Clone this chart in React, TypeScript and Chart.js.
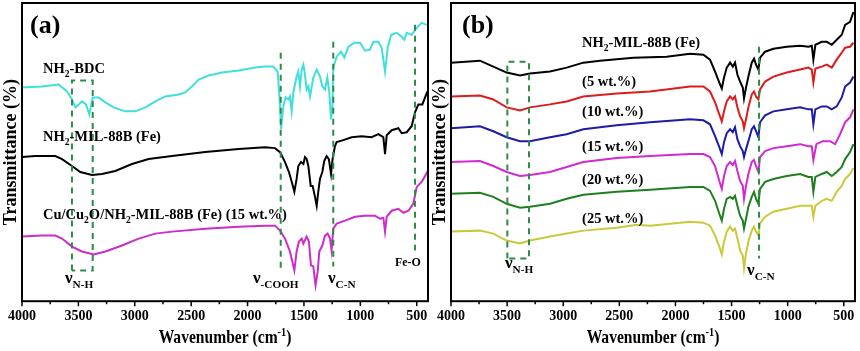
import { useEffect, useRef } from 'react';
import { Chart, registerables } from 'chart.js';

Chart.register(...registerables);

const FONT = "'Liberation Serif', 'Times New Roman', serif";

// Axis settings (wavenumber, cm-1)
const X_MIN = 400;
const X_MAX = 4000;
const TICK_VALUES = [500, 750, 1000, 1250, 1500, 1750, 2000, 2250, 2500, 2750, 3000, 3250, 3500, 3750, 4000];
const Y_MIN = 0;
const Y_MAX = 300;

// ---- Panel (a) spectra: [wavenumber, transmittance (a.u.)] ----
const bdcA: [number, number][] = [
  [4000, 215], [3823, 216], [3675, 218], [3601, 211], [3557, 203], [3527, 195], [3497, 198], [3468, 201],
  [3433, 198], [3403, 188], [3373, 205], [3320, 205], [3261, 200], [3187, 195], [3084, 191], [2995, 191],
  [2907, 195], [2818, 201], [2729, 206], [2670, 207], [2611, 208], [2552, 210], [2493, 216], [2433, 223],
  [2345, 227], [2227, 230], [2079, 232], [1931, 235], [1845, 236], [1772, 236], [1733, 231], [1712, 197],
  [1703, 173], [1683, 196], [1662, 205], [1638, 203], [1624, 206], [1609, 191], [1594, 210], [1565, 226],
  [1550, 231], [1535, 216], [1520, 233], [1505, 238], [1491, 228], [1476, 213], [1461, 216], [1446, 206],
  [1417, 225], [1387, 233], [1358, 226], [1337, 216], [1313, 213], [1293, 225], [1275, 210], [1260, 183],
  [1248, 193], [1240, 235], [1210, 246], [1171, 251], [1142, 245], [1106, 256], [1053, 260], [1003, 260],
  [959, 252], [914, 253], [885, 261], [840, 261], [811, 255], [781, 231], [757, 255], [727, 268],
  [677, 270], [633, 266], [610, 263], [589, 270], [545, 268], [500, 275], [456, 280], [412, 278],
];

const milA: [number, number][] = [
  [4000, 145], [3882, 146], [3705, 146], [3645, 143], [3557, 136], [3483, 130], [3379, 127], [3291, 128],
  [3173, 131], [3025, 138], [2877, 143], [2670, 146], [2375, 150], [2079, 153], [1845, 155], [1757, 154],
  [1712, 150], [1668, 140], [1633, 130], [1603, 118], [1585, 110], [1565, 123], [1550, 136], [1526, 140],
  [1505, 138], [1491, 145], [1476, 143], [1461, 136], [1440, 116], [1423, 116], [1402, 105], [1387, 96],
  [1373, 110], [1358, 123], [1337, 130], [1320, 141], [1299, 146], [1279, 143], [1260, 128], [1246, 143],
  [1225, 156], [1210, 160], [1151, 162], [1077, 165], [989, 166], [900, 165], [840, 168], [796, 165],
  [781, 148], [766, 167], [722, 172], [663, 174], [633, 169], [589, 170], [545, 176], [515, 190],
  [486, 198], [450, 198], [426, 205], [405, 211],
];

const cuA: [number, number][] = [
  [4000, 65], [3823, 66], [3705, 66], [3645, 63], [3557, 55], [3468, 50], [3364, 47], [3261, 50],
  [3113, 56], [2965, 63], [2818, 68], [2670, 70], [2375, 73], [2079, 75], [1845, 76], [1757, 76],
  [1712, 71], [1668, 63], [1624, 50], [1585, 31], [1565, 50], [1544, 60], [1520, 63], [1505, 58],
  [1476, 65], [1456, 60], [1438, 36], [1417, 35], [1397, 16], [1378, 30], [1364, 50], [1337, 56],
  [1313, 66], [1290, 68], [1269, 63], [1255, 51], [1240, 73], [1210, 78], [1136, 81], [1047, 85],
  [959, 86], [870, 86], [826, 83], [796, 84], [781, 70], [766, 85], [722, 91], [663, 93],
  [618, 89], [574, 91], [530, 98], [500, 115], [456, 120], [426, 126], [402, 131],
];

// ---- Panel (b) spectra ----
const milB: [number, number][] = [
  [4000, 240], [3742, 242], [3623, 236], [3504, 230], [3385, 227], [3296, 229], [3118, 231], [2969, 235],
  [2821, 240], [2672, 242], [2375, 245], [2078, 246], [1870, 249], [1751, 248], [1692, 243], [1647, 231],
  [1609, 220], [1587, 214], [1567, 225], [1543, 235], [1513, 240], [1489, 236], [1469, 240], [1448, 228],
  [1424, 221], [1400, 215], [1389, 204], [1371, 215], [1350, 226], [1320, 240], [1300, 244], [1282, 238],
  [1261, 233], [1246, 245], [1201, 251], [1127, 254], [1008, 256], [889, 257], [815, 256], [785, 257],
  [771, 243], [753, 258], [696, 261], [652, 261], [607, 258], [563, 263], [518, 268], [488, 278],
  [444, 281], [414, 291],
];

const wt5B: [number, number][] = [
  [4000, 206], [3742, 207], [3623, 203], [3504, 195], [3385, 192], [3296, 195], [3118, 198], [2969, 201],
  [2821, 206], [2523, 209], [2226, 211], [1870, 216], [1751, 216], [1692, 211], [1647, 200], [1609, 188],
  [1587, 181], [1567, 191], [1543, 201], [1513, 206], [1489, 203], [1469, 206], [1448, 195], [1424, 186],
  [1400, 181], [1389, 174], [1371, 183], [1350, 195], [1320, 208], [1300, 211], [1282, 206], [1261, 203],
  [1246, 213], [1201, 221], [1127, 226], [1008, 230], [889, 233], [815, 235], [785, 233], [771, 220],
  [753, 234], [696, 236], [652, 238], [607, 235], [563, 243], [518, 250], [488, 255], [444, 256],
  [414, 260],
];

const wt10B: [number, number][] = [
  [4000, 174], [3742, 176], [3623, 171], [3504, 165], [3385, 161], [3296, 161], [3118, 165], [2969, 168],
  [2821, 173], [2523, 177], [2226, 180], [1870, 183], [1751, 182], [1692, 178], [1647, 166], [1609, 155],
  [1587, 148], [1567, 160], [1543, 169], [1513, 173], [1489, 170], [1469, 175], [1448, 163], [1424, 156],
  [1400, 151], [1389, 145], [1371, 153], [1350, 161], [1320, 173], [1300, 176], [1282, 171], [1261, 165],
  [1246, 180], [1201, 187], [1127, 191], [1008, 193], [889, 195], [815, 193], [785, 193], [771, 178],
  [753, 193], [696, 196], [652, 196], [607, 193], [563, 196], [518, 205], [488, 216], [444, 220],
  [414, 226],
];

const wt15B: [number, number][] = [
  [4000, 140], [3742, 141], [3623, 136], [3504, 130], [3385, 126], [3296, 127], [3118, 130], [2969, 135],
  [2821, 140], [2523, 144], [2226, 146], [1870, 148], [1751, 148], [1692, 145], [1647, 136], [1609, 121],
  [1587, 113], [1567, 126], [1543, 136], [1513, 140], [1489, 137], [1469, 141], [1448, 131], [1424, 121],
  [1400, 116], [1389, 103], [1371, 116], [1350, 128], [1320, 140], [1300, 142], [1282, 136], [1261, 130],
  [1246, 145], [1201, 151], [1127, 154], [1008, 156], [889, 158], [815, 156], [785, 156], [771, 142],
  [744, 158], [687, 161], [622, 161], [578, 158], [533, 168], [488, 180], [444, 185], [414, 193],
];

const wt20B: [number, number][] = [
  [4000, 108], [3742, 109], [3623, 105], [3504, 98], [3385, 94], [3296, 95], [3118, 98], [2969, 103],
  [2821, 107], [2523, 110], [2226, 112], [1870, 115], [1751, 115], [1692, 111], [1647, 101], [1609, 88],
  [1587, 81], [1567, 93], [1543, 103], [1513, 105], [1489, 103], [1469, 106], [1448, 96], [1424, 86],
  [1400, 81], [1389, 73], [1371, 83], [1350, 95], [1320, 105], [1300, 110], [1282, 103], [1261, 98],
  [1246, 113], [1201, 120], [1127, 123], [1008, 126], [889, 128], [815, 125], [785, 125], [771, 110],
  [753, 125], [696, 128], [652, 130], [607, 126], [563, 130], [518, 135], [488, 143], [444, 150],
  [414, 158],
];

const wt25B: [number, number][] = [
  [4000, 70], [3742, 71], [3623, 68], [3504, 61], [3385, 58], [3296, 61], [3118, 65], [2969, 68],
  [2821, 71], [2523, 74], [2345, 77], [2226, 76], [1870, 80], [1751, 79], [1692, 76], [1647, 66],
  [1609, 55], [1587, 47], [1567, 60], [1543, 70], [1513, 75], [1489, 71], [1469, 73], [1448, 63],
  [1424, 51], [1400, 46], [1389, 33], [1371, 48], [1350, 60], [1320, 71], [1300, 75], [1282, 70],
  [1261, 66], [1246, 78], [1201, 85], [1127, 90], [1008, 93], [889, 96], [815, 96], [785, 96],
  [771, 85], [753, 96], [696, 101], [652, 103], [607, 101], [563, 110], [518, 116], [488, 123],
  [444, 128], [414, 134],
];

type Seg = { t: string; sub?: boolean; sup?: boolean };
type Label = { w: number; v: number; size: number; segs: Seg[] };
type Series = { data: [number, number][]; color: string };
type VLine = { w: number; v1: number; v2: number };
type Rect = { w1: number; w2: number; v1: number; v2: number };
type Panel = {
  series: Series[];
  padL: number;
  padR: number;
  labels: Label[];
  rects: Rect[];
  vlines: VLine[];
};

const DASH_COLOR = '#2e8b46';
const NAME_SIZE = 14.5;

const panelA: Panel = {
  series: [
    { data: bdcA, color: '#3fe0dc' },
    { data: milA, color: '#000000' },
    { data: cuA, color: '#cc2ccc' },
  ],
  padL: 22,
  padR: 2,
  labels: [
    { w: 3929, v: 270, size: 26, segs: [{ t: '(a)' }] },
    { w: 3814, v: 230, size: NAME_SIZE, segs: [{ t: 'NH' }, { t: '2', sub: true }, { t: '-BDC' }] },
    { w: 3814, v: 161, size: NAME_SIZE, segs: [{ t: 'NH' }, { t: '2', sub: true }, { t: '-MIL-88B (Fe)' }] },
    {
      w: 3814, v: 83, size: NAME_SIZE,
      segs: [{ t: 'Cu/Cu' }, { t: '2', sub: true }, { t: 'O/NH' }, { t: '2', sub: true }, { t: '-MIL-88B (Fe) (15 wt.%)' }],
    },
    { w: 3619, v: 18, size: 17, segs: [{ t: 'ν' }, { t: 'N-H', sub: true }] },
    { w: 1952, v: 18, size: 17, segs: [{ t: 'ν' }, { t: '-COOH', sub: true }] },
    { w: 1287, v: 18, size: 17, segs: [{ t: 'ν' }, { t: 'C-N', sub: true }] },
    { w: 693, v: 35, size: 12, segs: [{ t: 'Fe-O' }] },
  ],
  rects: [{ w1: 3557, w2: 3373, v1: 31, v2: 222 }],
  vlines: [
    { w: 1706, v1: 31, v2: 250 },
    { w: 1240, v1: 35, v2: 261 },
    { w: 515, v1: 51, v2: 278 },
  ],
};

const panelB: Panel = {
  series: [
    { data: milB, color: '#000000' },
    { data: wt5B, color: '#dd1c1c' },
    { data: wt10B, color: '#1c1ca8' },
    { data: wt15B, color: '#d22ad2' },
    { data: wt20B, color: '#1f7f1f' },
    { data: wt25B, color: '#c9c93a' },
  ],
  padL: 21,
  padR: 5,
  labels: [
    { w: 3902, v: 270, size: 26, segs: [{ t: '(b)' }] },
    { w: 2832, v: 256, size: NAME_SIZE, segs: [{ t: 'NH' }, { t: '2', sub: true }, { t: '-MIL-88B (Fe)' }] },
    { w: 2832, v: 216, size: NAME_SIZE, segs: [{ t: '(5 wt.%)' }] },
    { w: 2832, v: 186, size: NAME_SIZE, segs: [{ t: '(10 wt.%)' }] },
    { w: 2832, v: 151, size: NAME_SIZE, segs: [{ t: '(15 wt.%)' }] },
    { w: 2832, v: 118, size: NAME_SIZE, segs: [{ t: '(20 wt.%)' }] },
    { w: 2832, v: 79, size: NAME_SIZE, segs: [{ t: '(25 wt.%)' }] },
    { w: 3519, v: 33, size: 17, segs: [{ t: 'ν' }, { t: 'N-H', sub: true }] },
    { w: 1362, v: 26, size: 17, segs: [{ t: 'ν' }, { t: 'C-N', sub: true }] },
  ],
  rects: [{ w1: 3498, w2: 3305, v1: 43, v2: 241 }],
  vlines: [{ w: 1255, v1: 43, v2: 256 }],
};

function drawRich(ctx: CanvasRenderingContext2D, x: number, y: number, segs: Seg[], size: number, align: 'left' | 'center') {
  const parts = segs.map((s) => {
    const fs = s.sub || s.sup ? size * 0.66 : size;
    ctx.font = `bold ${fs}px ${FONT}`;
    return { ...s, fs, w: ctx.measureText(s.t).width };
  });
  const total = parts.reduce((a, p) => a + p.w, 0);
  let cx = align === 'center' ? x - total / 2 : x;
  ctx.textAlign = 'left';
  ctx.textBaseline = 'alphabetic';
  for (const p of parts) {
    ctx.font = `bold ${p.fs}px ${FONT}`;
    const dy = p.sub ? size * 0.28 : p.sup ? -size * 0.4 : 0;
    ctx.fillText(p.t, cx, y + dy);
    cx += p.w;
  }
}

function makePlugin(panel: Panel) {
  return {
    id: 'ftirDecor',
    afterDatasetsDraw(chart: any) {
      const { ctx, chartArea, scales } = chart;
      const xs = scales.x;
      const ys = scales.y;
      ctx.save();
      // dashed guide lines
      ctx.strokeStyle = DASH_COLOR;
      ctx.lineWidth = 2;
      ctx.setLineDash([6, 5]);
      for (const r of panel.rects) {
        const x1 = xs.getPixelForValue(r.w1);
        const x2 = xs.getPixelForValue(r.w2);
        const y1 = ys.getPixelForValue(r.v1);
        const y2 = ys.getPixelForValue(r.v2);
        ctx.beginPath();
        ctx.moveTo(x1, y1);
        ctx.lineTo(x1, y2);
        ctx.lineTo(x2, y2);
        ctx.lineTo(x2, y1);
        ctx.lineTo(x1, y1);
        ctx.stroke();
      }
      for (const l of panel.vlines) {
        const x = xs.getPixelForValue(l.w);
        ctx.beginPath();
        ctx.moveTo(x, ys.getPixelForValue(l.v2));
        ctx.lineTo(x, ys.getPixelForValue(l.v1));
        ctx.stroke();
      }
      ctx.setLineDash([]);

      // labels
      ctx.fillStyle = '#000';
      for (const lb of panel.labels) {
        drawRich(ctx, xs.getPixelForValue(lb.w), ys.getPixelForValue(lb.v), lb.segs, lb.size, 'left');
      }

      // frame
      ctx.strokeStyle = '#000';
      ctx.lineWidth = 2;
      ctx.strokeRect(chartArea.left, chartArea.top, chartArea.right - chartArea.left, chartArea.bottom - chartArea.top);

      // ticks (outward)
      ctx.lineWidth = 1.5;
      for (const v of TICK_VALUES) {
        const x = xs.getPixelForValue(v);
        const len = v % 500 === 0 ? 5 : 3;
        ctx.beginPath();
        ctx.moveTo(x, chartArea.bottom);
        ctx.lineTo(x, chartArea.bottom + len);
        ctx.stroke();
      }

      // axis titles
      ctx.fillStyle = '#000';
      ctx.save();
      ctx.translate(chartArea.left - 11, (chartArea.top + chartArea.bottom) / 2);
      ctx.rotate(-Math.PI / 2);
      ctx.font = `bold 18px ${FONT}`;
      ctx.textAlign = 'center';
      ctx.textBaseline = 'middle';
      ctx.fillText('Transmittance (%)', 0, 0);
      ctx.restore();

      ctx.save();
      ctx.translate((chartArea.left + chartArea.right) / 2, chartArea.bottom + 42);
      ctx.scale(0.82, 1);
      drawRich(ctx, 0, 0, [{ t: 'Wavenumber (cm' }, { t: '-1', sup: true }, { t: ')' }], 19, 'center');
      ctx.restore();
      ctx.restore();
    },
  };
}

function PanelChart({ panel, left }: { panel: Panel; left: number }) {
  const ref = useRef<HTMLCanvasElement | null>(null);
  useEffect(() => {
    if (!ref.current) return;
    const chart = new Chart(ref.current, {
      type: 'line',
      data: {
        datasets: panel.series.map((s) => ({
          data: s.data.map(([x, y]) => ({ x, y })),
          borderColor: s.color,
          backgroundColor: s.color,
          borderWidth: 2,
          pointRadius: 0,
          tension: 0,
          fill: false,
        })),
      },
      options: {
        animation: false,
        responsive: false,
        maintainAspectRatio: false,
        devicePixelRatio: 1,
        layout: { padding: { left: panel.padL, right: panel.padR, top: 3, bottom: 24 } },
        plugins: { legend: { display: false }, tooltip: { enabled: false } },
        scales: {
          x: {
            type: 'linear',
            reverse: true,
            min: X_MIN,
            max: X_MAX,
            afterBuildTicks: (scale: any) => {
              scale.ticks = TICK_VALUES.map((value) => ({ value }));
            },
            ticks: {
              callback: (v: any) => (Number(v) % 500 === 0 ? String(v) : ''),
              font: { family: FONT, size: 14, weight: 'bold' },
              color: '#000',
              maxRotation: 0,
              autoSkip: false,
              padding: 2,
            },
            grid: { display: false, drawTicks: true, tickLength: 5 },
            border: { display: false },
          },
          y: {
            display: false,
            min: Y_MIN,
            max: Y_MAX,
          },
        },
      } as any,
      plugins: [makePlugin(panel)],
    });
    return () => chart.destroy();
  }, [panel]);
  return (
    <canvas
      ref={ref}
      width={430}
      height={351}
      style={{ position: 'absolute', left, top: 0, width: 430, height: 351 }}
    />
  );
}

export default function App() {
  return (
    <div style={{ position: 'fixed', left: 0, top: 0, width: 860, height: 351, background: '#fff', overflow: 'hidden' }}>
      <PanelChart panel={panelA} left={0} />
      <PanelChart panel={panelB} left={430} />
    </div>
  );
}
